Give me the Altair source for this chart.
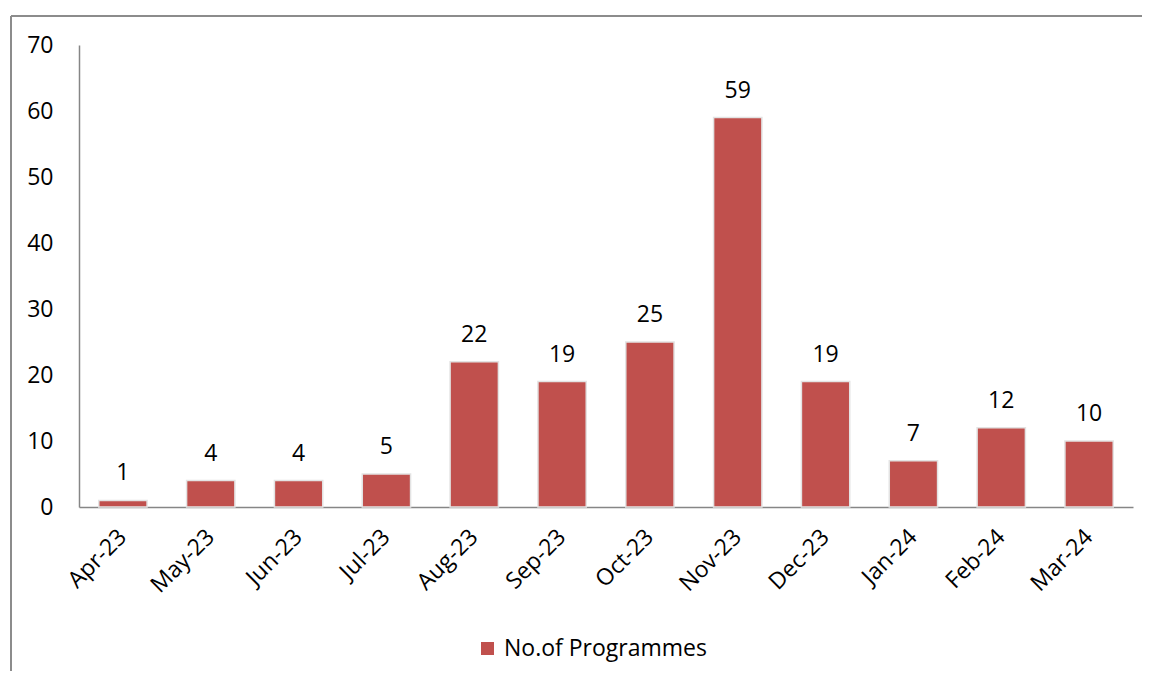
import altair as alt
import pandas as pd

months = ["Apr-23", "May-23", "Jun-23", "Jul-23", "Aug-23", "Sep-23",
          "Oct-23", "Nov-23", "Dec-23", "Jan-24", "Feb-24", "Mar-24"]
programmes = [1, 4, 4, 5, 22, 19, 25, 59, 19, 7, 12, 10]
series_name = "No.of Programmes"

df = pd.DataFrame({"month": months, "value": programmes, "series": [series_name] * len(months)})

FONT = "Open Sans"
FS = 23
RED = "#C0504D"

x_enc = alt.X("month:N", sort=months, title=None,
              scale=alt.Scale(paddingInner=0.45, paddingOuter=0.225),
              axis=alt.Axis(labelAngle=-45, labelAlign="right", labelBaseline="middle",
                            labelPadding=26, ticks=False, domainColor="#868686",
                            domainWidth=1.5, labelFont=FONT, labelFontSize=FS,
                            labelColor="#000000"))
y_enc = alt.Y("value:Q", title=None,
              scale=alt.Scale(domain=[0, 70], nice=False),
              axis=alt.Axis(values=list(range(0, 71, 10)), grid=False, ticks=False,
                            domainColor="#868686", domainWidth=1.5, labelPadding=26,
                            labelFont=FONT, labelFontSize=FS, labelColor="#000000"))

base = alt.Chart(df)

bars = base.mark_bar(stroke="#e3e3e3", strokeWidth=1.5).encode(
    x=x_enc, y=y_enc,
    color=alt.Color("series:N", title=None,
                    scale=alt.Scale(range=[RED]),
                    legend=alt.Legend(orient="none", legendX=397, legendY=592,
                                      symbolType="square", symbolSize=169,
                                      symbolStrokeWidth=0, labelFont=FONT,
                                      labelFontSize=FS, labelColor="#000000",
                                      labelLimit=0, padding=0, labelOffset=5)),
)

labels = base.mark_text(baseline="alphabetic", dy=-20, font=FONT, fontSize=FS,
                        color="#000000").encode(
    x=alt.X("month:N", sort=months), y="value:Q", text="value:Q")

frame_v = alt.Chart(pd.DataFrame({"k": [0]})).mark_rule(color="#8c8c8c", strokeWidth=2).encode(
    x=alt.value(-68), y=alt.value(-29), y2=alt.value(700))
frame_h = alt.Chart(pd.DataFrame({"k": [0]})).mark_rule(color="#8c8c8c", strokeWidth=2).encode(
    x=alt.value(-68), x2=alt.value(1200), y=alt.value(-29))

chart = alt.layer(bars, labels, frame_v, frame_h).properties(
    width=1054, height=462,
    autosize=alt.AutoSizeParams(type="none"),
    padding={"left": 71, "top": 37, "right": 9, "bottom": 164},
).configure_view(stroke=None)

chart.save("out.html", embed_options={"renderer": "svg", "actions": False})
